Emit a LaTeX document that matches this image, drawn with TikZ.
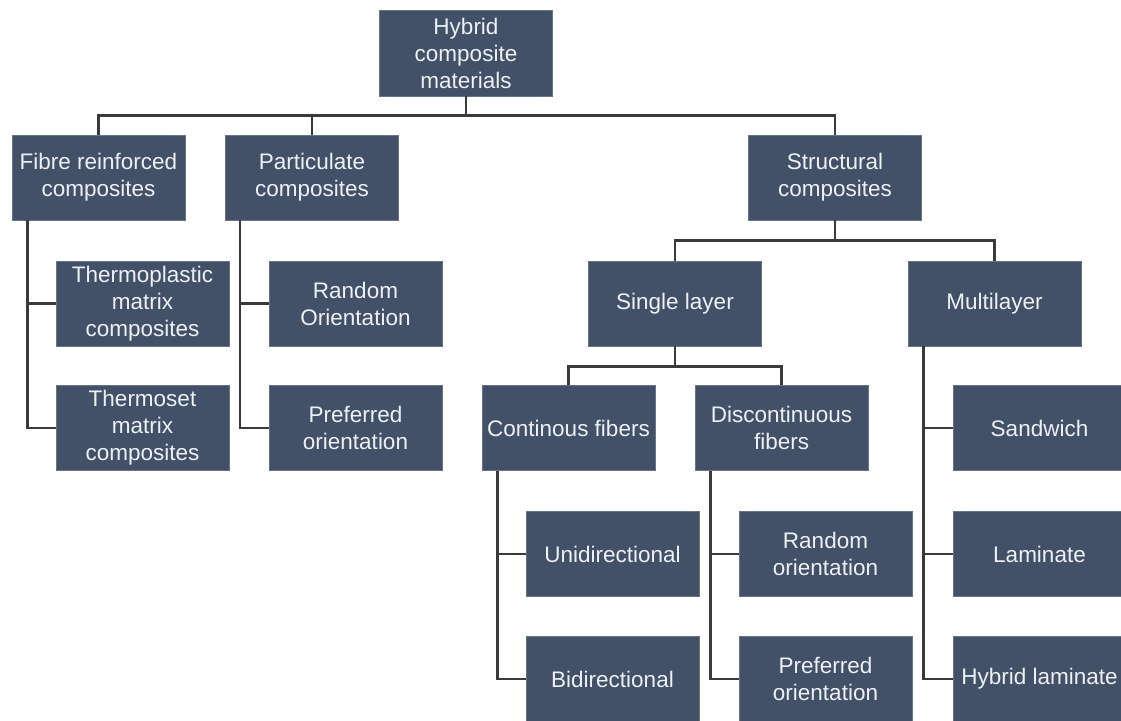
\documentclass[tikz,border=0pt]{standalone}
\usepackage{fontspec}
\setmainfont{Liberation Sans}
\usepackage{xcolor}
\definecolor{boxblue}{HTML}{425068}
\definecolor{boxtext}{HTML}{EEF1F4}
\definecolor{linegrey}{HTML}{3A3A3A}
\tikzset{
  catbox/.style={fill=boxblue, draw=boxblue!80!white, line width=0.8pt, text=boxtext,
    minimum width=173pt, minimum height=85pt, inner sep=0pt, align=center,
    font=\fontsize{22.5}{27}\selectfont},
  treeline/.style={linegrey, line width=2.5pt}
}

\begin{document}
\begin{tikzpicture}[x=1pt, y=-1pt]
  \useasboundingbox[fill=white] (0,0) rectangle (1121,720);
  % top level
  \node[catbox, minimum width=173pt, minimum height=86pt] (hyb) at (466,53) {Hybrid\\composite\\materials};
  \node[catbox] (fibre) at (98.5,177.5) {Fibre reinforced\\composites};
  \node[catbox] (partic) at (312,177.5) {Particulate\\composites};
  \node[catbox] (struct) at (835,177.5) {Structural\\composites};
  % fibre and particulate children
  \node[catbox] (thplast) at (142.5,303.5) {Thermoplastic\\matrix\\composites};
  \node[catbox] (thset) at (142.5,428) {Thermoset\\matrix\\composites};
  \node[catbox] (prand) at (355.5,303.5) {Random\\Orientation};
  \node[catbox] (ppref) at (355.5,428) {Preferred\\orientation};
  % structural children
  \node[catbox] (single) at (675,303.5) {Single layer};
  \node[catbox] (multi) at (994.5,303.5) {Multilayer};
  \node[catbox] (cont) at (568.5,428) {Continous fibers};
  \node[catbox] (discont) at (781.5,428) {Discontinuous\\fibers};
  \node[catbox] (sandw) at (1039.5,428) {Sandwich};
  \node[catbox] (unidir) at (612.5,554) {Unidirectional};
  \node[catbox] (drand) at (825.5,554) {Random\\orientation};
  \node[catbox] (lamin) at (1039.5,554) {Laminate};
  \node[catbox] (bidir) at (612.5,679) {Bidirectional};
  \node[catbox] (dpref) at (825.5,679) {Preferred\\orientation};
  \node[catbox] (hlamin) at (1039.5,679) {Hybrid laminate};

  % buses
  \draw[treeline] (hyb.south) -- ++(0,19) -| (fibre.north);
  \draw[treeline] (hyb.south) -- ++(0,19) -| (partic.north);
  \draw[treeline] (hyb.south) -- ++(0,19) -| (struct.north);
  \draw[treeline] (struct.south) -- ++(0,20) -| (single.north);
  \draw[treeline] (struct.south) -- ++(0,20) -| (multi.north);
  \draw[treeline] (single.south) -- ++(0,20) -| (cont.north);
  \draw[treeline] (single.south) -- ++(0,20) -| (discont.north);
  % side branches
  \draw[treeline] ([xshift=16pt]fibre.south west) |- (thplast.west);
  \draw[treeline] ([xshift=16pt]fibre.south west) |- (thset.west);
  \draw[treeline] ([xshift=15pt]partic.south west) |- (prand.west);
  \draw[treeline] ([xshift=15pt]partic.south west) |- (ppref.west);
  \draw[treeline] ([xshift=16pt]cont.south west) |- (unidir.west);
  \draw[treeline] ([xshift=16pt]cont.south west) |- (bidir.west);
  \draw[treeline] ([xshift=16pt]discont.south west) |- (drand.west);
  \draw[treeline] ([xshift=16pt]discont.south west) |- (dpref.west);
  \draw[treeline] ([xshift=16pt]multi.south west) |- (sandw.west);
  \draw[treeline] ([xshift=16pt]multi.south west) |- (lamin.west);
  \draw[treeline] ([xshift=16pt]multi.south west) |- (hlamin.west);
\end{tikzpicture}
\end{document}
